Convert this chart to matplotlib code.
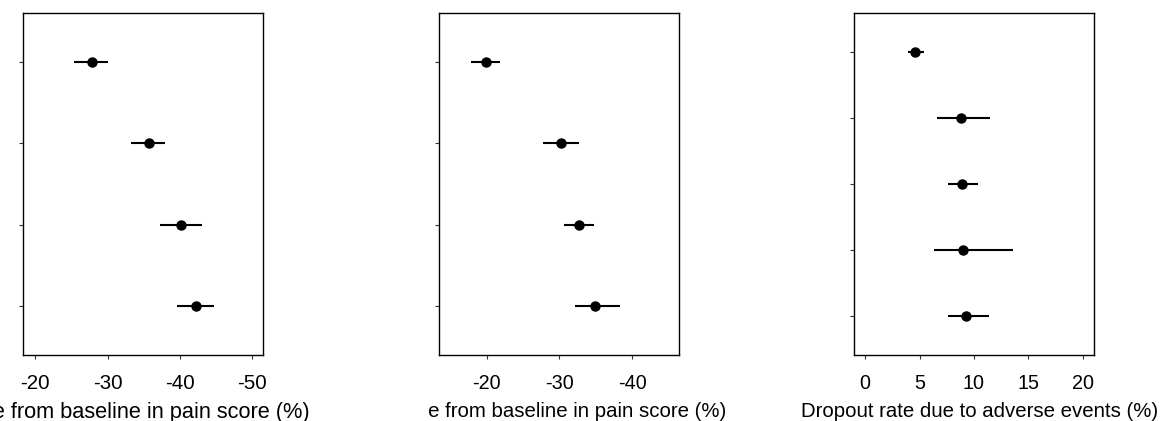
"""
Forest-style dot plots: pain score change and dropout rate
"""

import numpy as np
import matplotlib
matplotlib.use("Agg")
import matplotlib.pyplot as plt
from matplotlib.transforms import Bbox, TransformedBbox

plt.rcParams["font.family"] = ["Liberation Sans", "DejaVu Sans"]

# Panel 1: change from baseline in pain score (%)
pain1_mean = [-27.9, -35.7, -40.2, -42.3]
pain1_lo = [-25.8, -33.5, -37.3, -39.9]
pain1_hi = [-30.4, -38.1, -43.1, -45.0]
pain1_ticks = [-20, -30, -40, -50]

# Panel 2: change from baseline in pain score (%)
pain2_mean = [-19.9, -30.2, -32.7, -34.9]
pain2_lo = [-17.9, -27.7, -30.6, -31.5]
pain2_hi = [-21.9, -32.7, -34.7, -37.7]
pain2_ticks = [-20, -30, -40]

# Panel 3: dropout rate due to adverse events (%)
drop_mean = [4.6, 8.8, 8.9, 9.0, 9.3]
drop_lo = [3.9, 6.6, 7.6, 6.3, 7.6]
drop_hi = [5.4, 11.5, 10.4, 13.6, 11.4]
drop_ticks = [0, 5, 10, 15, 20]

PAIN_LABEL = "Change from baseline in pain score (%)"
DROP_LABEL = "Dropout rate due to adverse events (%)"

W, H = 1162, 421
fig = plt.figure(figsize=(W / 100, H / 100), dpi=100)


def panel(rect, mean, lo, hi, ticks, xlim, label, label_x, clip_px,
          tick_fs=14.2, label_fs=14.7):
    ax = fig.add_axes(rect)
    mean = np.array(mean)
    lo = np.array(lo)
    hi = np.array(hi)
    y = np.arange(len(mean))
    xerr = [np.abs(mean - lo), np.abs(hi - mean)]
    ax.errorbar(mean, y, xerr=xerr, fmt="o", color="black", ms=6.5,
                elinewidth=1.5, capsize=0)
    ax.set_ylim(len(mean) - 0.4, -0.6)
    ax.set_xlim(*xlim)
    ax.set_yticks(y)
    ax.set_yticklabels([])
    ax.set_xticks(ticks)
    ax.set_xticklabels([str(t) for t in ticks])
    for s in ax.spines.values():
        s.set_linewidth(1.0)
    ax.tick_params(axis="both", length=3, width=0.8, color="#333333",
                   labelsize=tick_fs, pad=10.5)
    ax.set_xlabel(label, fontsize=label_fs, labelpad=6.5)
    ax.xaxis.label.set_x(label_x)
    # the original panels were cropped, cutting off the start of the label
    box = TransformedBbox(Bbox([[clip_px[0] / W, 0], [clip_px[1] / W, 1]]),
                          fig.transFigure)
    ax.xaxis.label.set_clip_box(box)
    ax.xaxis.label.set_clip_on(True)
    return ax


bottom = 1 - 355 / H
height = (355 - 13) / H

panel([23 / W, bottom, 240 / W, height], pain1_mean, pain1_lo, pain1_hi,
      pain1_ticks, (-18.3, -51.5), PAIN_LABEL, 0.402, (0, 400),
      tick_fs=14.8, label_fs=15.7)
panel([439.3 / W, bottom, 240 / W, height], pain2_mean, pain2_lo, pain2_hi,
      pain2_ticks, (-13.5, -46.5), PAIN_LABEL, 0.449, (427.5, 790))
panel([854.3 / W, bottom, 239.4 / W, height], drop_mean, drop_lo, drop_hi,
      drop_ticks, (-1.0, 21.0), DROP_LABEL, 0.525, (790, W))

plt.savefig("out.png", dpi=100)
